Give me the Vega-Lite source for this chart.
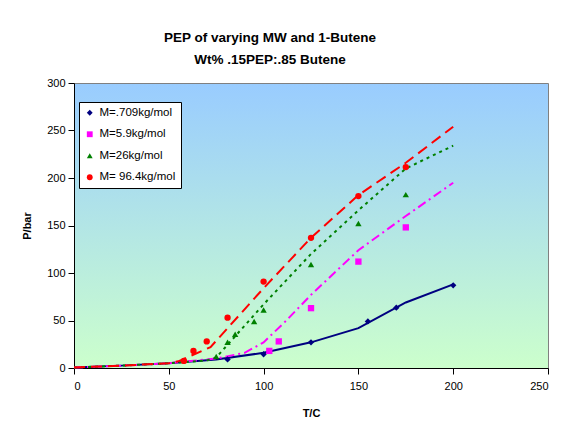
{
  "$schema": "https://vega.github.io/schema/vega-lite/v6.json",
  "width": 474,
  "height": 285,
  "autosize": {"type": "none"},
  "padding": {"left": 74, "top": 83, "right": 30, "bottom": 61},
  "background": "white",
  "config": {
    "font": "Liberation Sans",
    "view": {
      "fill": {"gradient": "linear", "x1": 0, "y1": 0, "x2": 0, "y2": 1,
        "stops": [{"offset": 0, "color": "#99CCFF"}, {"offset": 1, "color": "#CCFFCC"}]},
      "stroke": "#808080",
      "strokeWidth": 1
    },
    "axis": {
      "grid": false,
      "domainColor": "black",
      "tickColor": "black",
      "labelColor": "black",
      "labelFont": "Liberation Sans",
      "labelFontSize": 11,
      "titleFont": "Liberation Sans",
      "titleFontSize": 11,
      "titleFontWeight": "bold",
      "titleColor": "black",
      "tickSize": 6
    },
    "legend": {
      "orient": "none", "legendX": 5, "legendY": 19,
      "fillColor": "white", "strokeColor": "black", "padding": 5,
      "labelFont": "Liberation Sans", "labelFontSize": 11.5, "labelColor": "black",
      "symbolSize": 34, "rowPadding": 8.5, "labelOffset": 4
    }
  },
  "title": {
    "text": ["PEP of varying MW and 1-Butene", "Wt% .15PEP:.85 Butene"],
    "font": "Liberation Sans",
    "fontSize": 13.5,
    "fontWeight": "bold",
    "color": "black",
    "anchor": "middle",
    "dx": -41,
    "lineHeight": 22,
    "offset": 11
  },
  "datasets": {
    "obs": [
      {"series": "M=.709kg/mol", "T": 81, "P": 9},
      {"series": "M=.709kg/mol", "T": 100, "P": 14.5},
      {"series": "M=.709kg/mol", "T": 125, "P": 27},
      {"series": "M=.709kg/mol", "T": 155, "P": 49},
      {"series": "M=.709kg/mol", "T": 170, "P": 63.5},
      {"series": "M=.709kg/mol", "T": 200, "P": 87},
      {"series": "M=5.9kg/mol", "T": 103, "P": 18},
      {"series": "M=5.9kg/mol", "T": 108, "P": 28},
      {"series": "M=5.9kg/mol", "T": 125, "P": 63},
      {"series": "M=5.9kg/mol", "T": 150, "P": 112},
      {"series": "M=5.9kg/mol", "T": 175, "P": 148},
      {"series": "M=26kg/mol", "T": 75, "P": 12},
      {"series": "M=26kg/mol", "T": 81, "P": 27},
      {"series": "M=26kg/mol", "T": 85, "P": 35.5},
      {"series": "M=26kg/mol", "T": 95, "P": 49},
      {"series": "M=26kg/mol", "T": 100, "P": 61},
      {"series": "M=26kg/mol", "T": 125, "P": 109},
      {"series": "M=26kg/mol", "T": 150, "P": 152},
      {"series": "M=26kg/mol", "T": 175, "P": 182.5},
      {"series": "M= 96.4kg/mol", "T": 58, "P": 7.5},
      {"series": "M= 96.4kg/mol", "T": 63, "P": 18},
      {"series": "M= 96.4kg/mol", "T": 70, "P": 28},
      {"series": "M= 96.4kg/mol", "T": 81, "P": 53},
      {"series": "M= 96.4kg/mol", "T": 100, "P": 91},
      {"series": "M= 96.4kg/mol", "T": 125, "P": 137},
      {"series": "M= 96.4kg/mol", "T": 150, "P": 181},
      {"series": "M= 96.4kg/mol", "T": 175, "P": 211.5}
    ],
    "fit": [
      {"series": "M=.709kg/mol", "T": 0, "P": 0.5},
      {"series": "M=.709kg/mol", "T": 25, "P": 2.5},
      {"series": "M=.709kg/mol", "T": 50, "P": 5},
      {"series": "M=.709kg/mol", "T": 75, "P": 9},
      {"series": "M=.709kg/mol", "T": 100, "P": 16},
      {"series": "M=.709kg/mol", "T": 125, "P": 27},
      {"series": "M=.709kg/mol", "T": 150, "P": 42},
      {"series": "M=.709kg/mol", "T": 175, "P": 69},
      {"series": "M=.709kg/mol", "T": 200, "P": 88},
      {"series": "M=5.9kg/mol", "T": 0, "P": 0.5},
      {"series": "M=5.9kg/mol", "T": 25, "P": 2.5},
      {"series": "M=5.9kg/mol", "T": 50, "P": 5},
      {"series": "M=5.9kg/mol", "T": 75, "P": 10},
      {"series": "M=5.9kg/mol", "T": 90, "P": 16},
      {"series": "M=5.9kg/mol", "T": 100, "P": 27},
      {"series": "M=5.9kg/mol", "T": 112, "P": 50},
      {"series": "M=5.9kg/mol", "T": 125, "P": 77},
      {"series": "M=5.9kg/mol", "T": 150, "P": 124},
      {"series": "M=5.9kg/mol", "T": 175, "P": 160},
      {"series": "M=5.9kg/mol", "T": 200, "P": 195},
      {"series": "M=26kg/mol", "T": 0, "P": 0.5},
      {"series": "M=26kg/mol", "T": 25, "P": 2.5},
      {"series": "M=26kg/mol", "T": 50, "P": 5},
      {"series": "M=26kg/mol", "T": 70, "P": 8},
      {"series": "M=26kg/mol", "T": 75, "P": 11},
      {"series": "M=26kg/mol", "T": 100, "P": 67},
      {"series": "M=26kg/mol", "T": 125, "P": 120},
      {"series": "M=26kg/mol", "T": 150, "P": 166},
      {"series": "M=26kg/mol", "T": 175, "P": 210},
      {"series": "M=26kg/mol", "T": 200, "P": 234},
      {"series": "M= 96.4kg/mol", "T": 0, "P": 0.5},
      {"series": "M= 96.4kg/mol", "T": 25, "P": 2.5},
      {"series": "M= 96.4kg/mol", "T": 50, "P": 5},
      {"series": "M= 96.4kg/mol", "T": 55, "P": 7},
      {"series": "M= 96.4kg/mol", "T": 72, "P": 22},
      {"series": "M= 96.4kg/mol", "T": 100, "P": 84},
      {"series": "M= 96.4kg/mol", "T": 125, "P": 137},
      {"series": "M= 96.4kg/mol", "T": 150, "P": 182},
      {"series": "M= 96.4kg/mol", "T": 175, "P": 216},
      {"series": "M= 96.4kg/mol", "T": 200, "P": 254}
    ]
  },
  "encoding": {
    "x": {"field": "T", "type": "quantitative", "scale": {"domain": [0, 250]},
      "axis": {"values": [0, 50, 100, 150, 200, 250], "title": "T/C", "titlePadding": 16, "labelPadding": 6}},
    "y": {"field": "P", "type": "quantitative", "scale": {"domain": [0, 300]},
      "axis": {"values": [0, 50, 100, 150, 200, 250, 300], "title": "P/bar", "titlePadding": 14, "labelPadding": 3}}
  },
  "layer": [
    {
      "data": {"name": "fit"},
      "transform": [{"filter": "datum.series == 'M=.709kg/mol'"}],
      "mark": {"type": "line", "strokeWidth": 2, "color": "#000080"},
      "encoding": {"order": {"field": "T", "type": "quantitative"}}
    },
    {
      "data": {"name": "fit"},
      "transform": [{"filter": "datum.series == 'M=5.9kg/mol'"}],
      "mark": {"type": "line", "strokeWidth": 2, "color": "#FF00FF", "strokeDash": [9, 4, 2, 4]},
      "encoding": {"order": {"field": "T", "type": "quantitative"}}
    },
    {
      "data": {"name": "fit"},
      "transform": [{"filter": "datum.series == 'M=26kg/mol'"}],
      "mark": {"type": "line", "strokeWidth": 2, "color": "#008000", "strokeDash": [3, 4]},
      "encoding": {"order": {"field": "T", "type": "quantitative"}}
    },
    {
      "data": {"name": "fit"},
      "transform": [{"filter": "datum.series == 'M= 96.4kg/mol'"}],
      "mark": {"type": "line", "strokeWidth": 2, "color": "#FF0000", "strokeDash": [11, 6]},
      "encoding": {"order": {"field": "T", "type": "quantitative"}}
    },
    {
      "data": {"name": "obs"},
      "mark": {"type": "point", "filled": true, "opacity": 1, "size": 40},
      "encoding": {
        "color": {"field": "series", "type": "nominal",
          "scale": {"domain": ["M=.709kg/mol", "M=5.9kg/mol", "M=26kg/mol", "M= 96.4kg/mol"],
            "range": ["#000080", "#FF00FF", "#008000", "#FF0000"]},
          "legend": {"title": null}},
        "shape": {"field": "series", "type": "nominal",
          "scale": {"domain": ["M=.709kg/mol", "M=5.9kg/mol", "M=26kg/mol", "M= 96.4kg/mol"],
            "range": ["diamond", "square", "triangle-up", "circle"]},
          "legend": {"title": null}}
      }
    }
  ]
}
